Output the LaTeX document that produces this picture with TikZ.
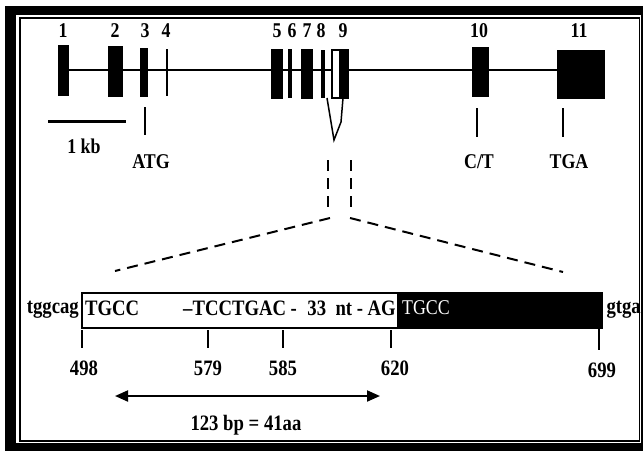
\documentclass[tikz,border=0pt]{standalone}
\usepackage{fontspec}
\setmainfont{Liberation Serif}[FakeStretch=0.85]
\usetikzlibrary{arrows.meta}
\tikzset{
  lab/.style={font=\fontsize{21}{21}\selectfont\bfseries, inner sep=0pt},
  seq/.style={font=\fontsize{22}{22}\selectfont\bfseries, inner sep=0pt},
  tickline/.style={line width=1.6pt},
  zoomline/.style={line width=2pt, dash pattern=on 11pt off 7pt},
}
\begin{document}
\begin{tikzpicture}[x=1pt,y=-1pt,>={Triangle[length=13pt,width=11pt]}]
  \useasboundingbox (0,0) rectangle (643,451);
  % frame
  \fill[black] (5,6) rectangle (643,451);
  \fill[white] (16,15) rectangle (641,443);
  \draw[line width=1.2pt] (20,18) rectangle (639.5,441);

  % gene: introns and exons
  \draw[line width=2.6pt] (60,70) -- (604,70);
  \fill (58,45) rectangle (69,96);
  \fill (108,46) rectangle (123,97);
  \fill (140,48) rectangle (148,97);
  \draw[line width=2.2pt] (167,49) -- (167,96);
  \fill (271,49) rectangle (283,99);
  \fill (288,49) rectangle (292,98);
  \fill (301,49) rectangle (313,99);
  \fill (321,50) rectangle (325,98);
  \filldraw[fill=white,line width=1.2pt] (332,50) rectangle (348,98);
  \fill (339,50) rectangle (348,98);
  \fill (472,47) rectangle (489,97);
  \fill (557,50) rectangle (605,99);

  \node[lab] (e1) at (63,31) {1};
  \node[lab] (e2) at (115,31) {2};
  \node[lab] (e3) at (145,31) {3};
  \node[lab] (e4) at (166,31) {4};
  \node[lab] (e5) at (277,31) {5};
  \node[lab] (e6) at (292,31) {6};
  \node[lab] (e7) at (307,31) {7};
  \node[lab] (e8) at (321,31) {8};
  \node[lab] (e9) at (343,31) {9};
  \node[lab] (e10) at (479,31) {10};
  \node[lab] (e11) at (579,31) {11};

  % scale bar
  \draw[line width=3pt] (48,121) -- (126,121);
  \node[lab] (kb) at (84,146) {1 kb};

  % sites
  \draw[tickline] (145,107) -- (145,135);
  \node[lab] (atg) at (151,162) {ATG};
  \draw[tickline] (477,108) -- (477,137);
  \node[lab] (ct) at (479,162) {C/T};
  \draw[tickline] (563,108) -- (563,137);
  \node[lab] (tga) at (569,162) {TGA};

  % spliced region of exon 9
  \draw[line width=1.5pt,line join=miter] (327,98) -- (334,140) -- (341,122) -- (343,98);
  \draw[zoomline] (328,160) -- (328,214);
  \draw[zoomline] (351,160) -- (351,214);
  \draw[zoomline] (330,218) -- (115,271);
  \draw[zoomline] (350,218) -- (563,272);

  % enlarged exon 9
  \draw[line width=2pt] (82,293) rectangle (602,328);
  \fill (397,293) rectangle (602,328);
  \node[seq, anchor=east] (up) at (79,310) {tggcag};
  \node[seq, anchor=east] (down) at (641,310) {gtga};
  \node[seq, anchor=west] (tgcc) at (85,308) {TGCC};
  \node[seq, anchor=west] (mid) at (183,308) {--TCCTGAC -};
  \node[seq, anchor=east] (nt) at (396,308) {33\ \ nt - AG};
  \node[seq, anchor=west, text=white, font=\fontsize{21}{21}\selectfont] (tgcc2) at (402,308) {TGCC};

  \draw[tickline] (82,330) -- (82,348);
  \draw[tickline] (208,330) -- (208,348);
  \draw[tickline] (283,330) -- (283,348);
  \draw[tickline] (391,330) -- (391,348);
  \draw[tickline] (599,328) -- (599,350);
  \node[seq] (p498) at (84,368) {498};
  \node[seq] (p579) at (208,368) {579};
  \node[seq] (p585) at (283,368) {585};
  \node[seq] (p620) at (395,368) {620};
  \node[seq] (p699) at (602,370) {699};

  \draw[<->, line width=2pt] (115,396) -- (380,396);
  \node[seq] (len) at (246,425) {123 bp = 41aa};
\end{tikzpicture}
\end{document}
